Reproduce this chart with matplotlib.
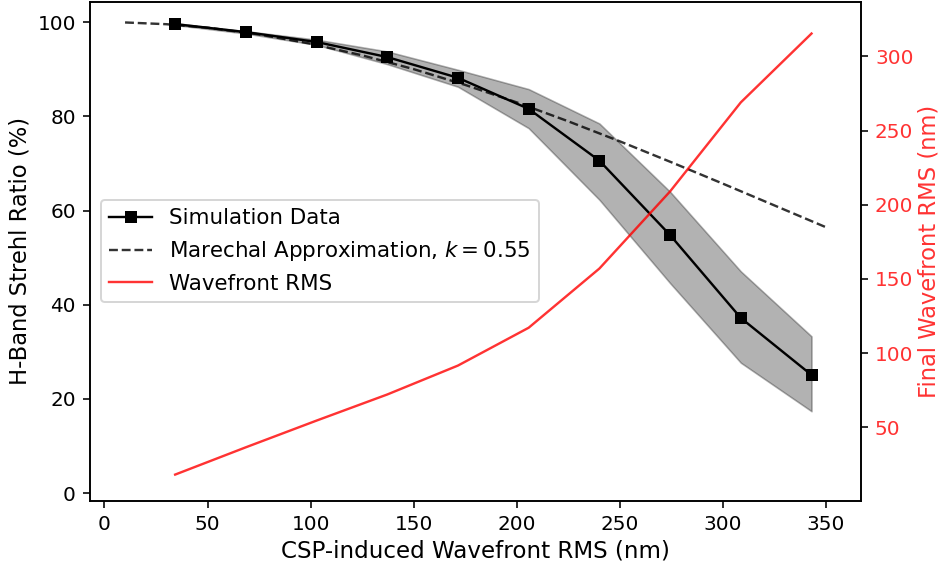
import numpy as np
import matplotlib.pyplot as plt

# CSP-induced wavefront error (nm) for each simulation run
csp_rms = [34.3, 68.6, 102.9, 137.2, 171.5, 205.8, 240.1, 274.4, 308.7, 343.0]
strehl_mean = [99.6, 97.9, 95.8, 92.6, 88.2, 81.6, 70.6, 54.8, 37.2, 25.1]
strehl_hi = [99.8, 98.1, 96.3, 93.8, 89.9, 85.8, 78.5, 64.0, 47.1, 33.3]
strehl_lo = [99.4, 97.6, 95.2, 91.1, 86.3, 77.5, 62.3, 44.6, 27.7, 17.4]
final_rms = [18.1, 36.5, 54.5, 72.1, 91.6, 117.1, 157.0, 209.0, 269.0, 315.4]

# Marechal curve, k = 0.55
marechal_x = [10, 30, 50, 75, 100, 125, 150, 175, 200, 225, 250, 275, 300, 325, 350]
marechal_s = [99.95, 99.58, 98.84, 97.41, 95.44, 92.97, 90.04, 86.69, 82.98,
              78.96, 74.71, 70.27, 65.72, 61.10, 56.47]

fig = plt.figure(figsize=(941/144, 567/144), dpi=144)
ax = fig.add_axes([90/941, 1 - 500.7/567, (861 - 90)/941, (500.7 - 1.5)/567])

ax.fill_between(csp_rms, strehl_lo, strehl_hi, color='k', alpha=0.3, lw=0.8)
l1, = ax.plot(csp_rms, strehl_mean, 'k-s', lw=1.2, ms=5, label='Simulation Data')
l2, = ax.plot(marechal_x, marechal_s, 'k--', lw=1.2, alpha=0.8,
              label=r'Marechal Approximation, $k = 0.55$')
ax.set_xlim(-7, 367)
ax.set_ylim(-1.6, 104.4)
ax.set_xlabel('CSP-induced Wavefront RMS (nm)', fontsize=11.5, labelpad=3)
ax.set_ylabel('H-Band Strehl Ratio (%)', fontsize=11.3, labelpad=3)
ax.tick_params(labelsize=10)

ax2 = ax.twinx()
l3, = ax2.plot(csp_rms, final_rms, color='r', lw=1.2, alpha=0.8, label='Wavefront RMS')
ax2.set_ylim(0.5, 337)
ax2.set_ylabel('Final Wavefront RMS (nm)', color='r', alpha=0.8, fontsize=11.3, labelpad=2)
ax2.tick_params(axis='y', labelcolor='r', labelsize=10)
for t in ax2.get_yticklabels():
    t.set_alpha(0.8)

ax2.legend(handles=[l1, l2, l3], loc='center left', fontsize=10.7)

fig.savefig('out.png', dpi=144)
